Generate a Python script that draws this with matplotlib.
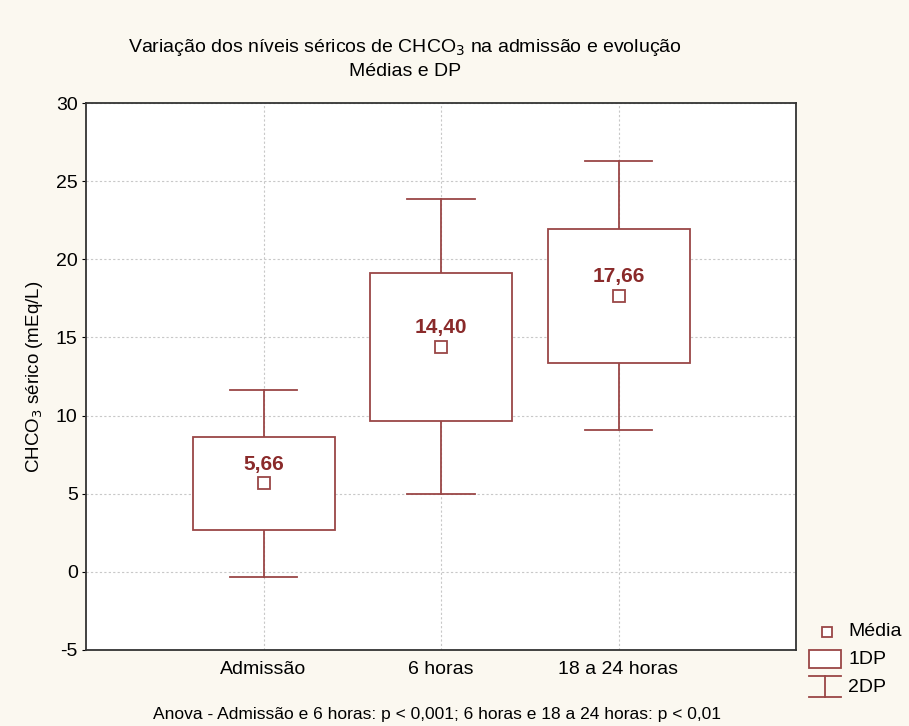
import matplotlib.pyplot as plt
from matplotlib.patches import Rectangle
from matplotlib.lines import Line2D

plt.rcParams['font.family'] = ['Liberation Sans', 'DejaVu Sans']
plt.rcParams['axes.unicode_minus'] = False

categories = ["Admissão", "6 horas", "18 a 24 horas"]
means = [5.66, 14.40, 17.66]
sds = [3.0, 4.72, 4.30]
mean_labels = ["5,66", "14,40", "17,66"]

edge = "#9a4646"
label_col = "#8a2a2a"
W, H = 909, 726

fig = plt.figure(figsize=(W / 100, H / 100), dpi=100, facecolor="#fbf8f0")
ax = fig.add_axes([86 / W, 1 - 650 / H, 710 / W, 547 / H])
ax.set_facecolor("white")

pos = [1, 2, 3]
for x, m, s, lab in zip(pos, means, sds, mean_labels):
    # 2 DP whiskers
    ax.plot([x, x], [m + s, m + 2 * s], color=edge, lw=1.3, zorder=3)
    ax.plot([x, x], [m - s, m - 2 * s], color=edge, lw=1.3, zorder=3)
    ax.plot([x - 0.19, x + 0.19], [m + 2 * s] * 2, color=edge, lw=1.3, zorder=3)
    ax.plot([x - 0.19, x + 0.19], [m - 2 * s] * 2, color=edge, lw=1.3, zorder=3)
    # 1 DP box
    ax.add_patch(Rectangle((x - 0.4, m - s), 0.8, 2 * s, facecolor="white",
                           edgecolor=edge, lw=1.3, zorder=3))
    ax.plot(x, m, marker="s", ms=8, mfc="white", mec=edge, mew=1.3, zorder=4)
    ax.annotate(lab, (x, m), xytext=(0, 7), textcoords="offset points",
                ha="center", va="bottom", color=label_col,
                fontsize=15, fontweight="bold", zorder=5)

ax.set_xlim(0, 4)
ax.set_ylim(-5, 30)
ax.set_xticks(pos)
ax.set_xticklabels(categories, fontsize=14)
ax.set_yticks(range(-5, 31, 5))
ax.tick_params(axis="y", labelsize=14, length=3, pad=3)
ax.tick_params(axis="x", length=0, pad=8)
ax.grid(True, color="#c8c8c8", ls=(0, (2, 2)), lw=0.8)
ax.set_axisbelow(True)
for sp in ax.spines.values():
    sp.set_color("#333333")
    sp.set_linewidth(1.3)

ax.set_ylabel("CHCO$_3$ sérico (mEq/L)", fontsize=13.5, labelpad=8)

fig.text(405 / W, 1 - 47 / H, "Variação dos níveis séricos de CHCO$_3$ na admissão e evolução",
         ha="center", va="center", fontsize=14)
fig.text(405 / W, 1 - 72 / H, "Médias e DP", ha="center", va="center", fontsize=14)
fig.text(437 / W, 1 - 714 / H,
         "Anova - Admissão e 6 horas: p < 0,001; 6 horas e 18 a 24 horas: p < 0,01",
         ha="center", va="center", fontsize=12.5)

# legend drawn in figure pixels
def fx(x):
    return x / W

def fy(y):
    return 1 - y / H

fig.add_artist(Line2D([fx(827)], [fy(632)], marker="s", ms=7, mfc="white",
                      mec=edge, mew=1.3, transform=fig.transFigure))
fig.text(fx(848), fy(632), "Média", va="center", fontsize=14)
fig.add_artist(Rectangle((fx(809), fy(668)), fx(841) - fx(809), fy(650) - fy(668),
                         facecolor="white", edgecolor=edge, lw=1.3,
                         transform=fig.transFigure))
fig.text(fx(848), fy(660), "1DP", va="center", fontsize=14)
for seg in [([809, 841], [676, 676]), ([809, 841], [697, 697]), ([825, 825], [676, 697])]:
    fig.add_artist(Line2D([fx(v) for v in seg[0]], [fy(v) for v in seg[1]],
                          color=edge, lw=1.3, transform=fig.transFigure))
fig.text(fx(848), fy(687), "2DP", va="center", fontsize=14)

fig.savefig("out.png", dpi=100, facecolor=fig.get_facecolor())
